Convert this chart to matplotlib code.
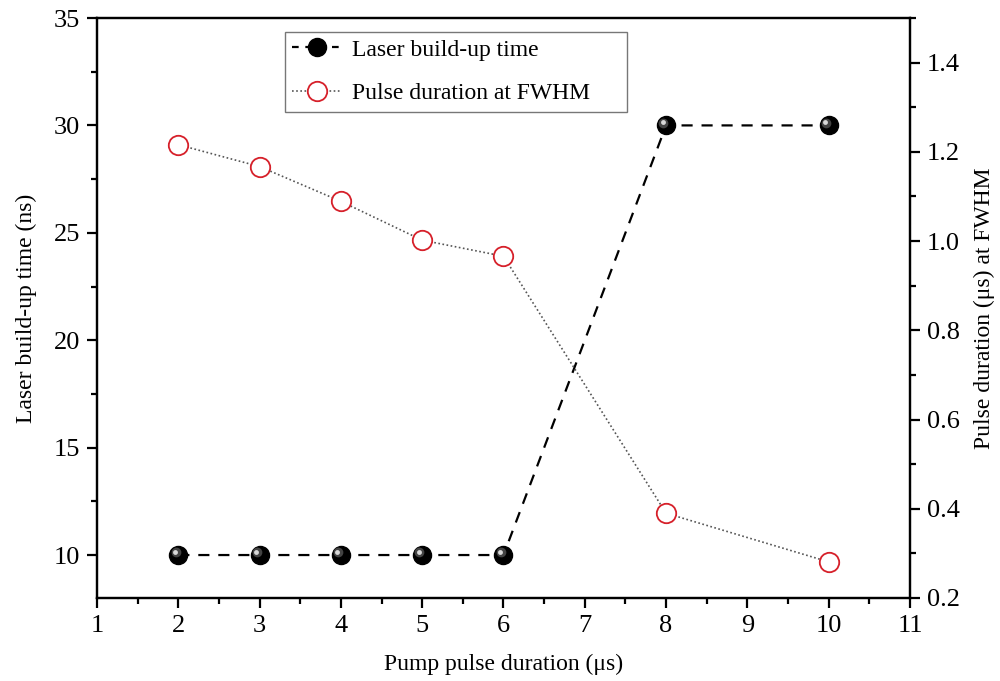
import numpy as np
import matplotlib.pyplot as plt
import matplotlib.transforms as mtransforms
from matplotlib.lines import Line2D
from matplotlib.ticker import MultipleLocator, AutoMinorLocator

plt.rcParams['font.family'] = ['Liberation Serif', 'DejaVu Serif']

# data
pump = [2, 3, 4, 5, 6, 8, 10]
buildup = [10, 10, 10, 10, 10, 30, 30]
fwhm = [1.216, 1.167, 1.089, 1.002, 0.966, 0.390, 0.281]

fig = plt.figure(figsize=(10, 6.81), dpi=100)
ax1 = fig.add_axes([0.097, 1 - 598 / 681, 0.813, (598 - 18) / 681])
ax2 = ax1.twinx()

# build-up time: black "spheres" with a dashed line
ax1.plot(pump, buildup, color='black', ls=(0, (5, 4)), lw=1.6, zorder=3)
ax1.plot(pump, buildup, ls='none', marker='o', ms=13, mfc='black', mec='black', zorder=4)
hl1 = ax1.transData + mtransforms.ScaledTranslation(-2 / 72, 2 / 72, fig.dpi_scale_trans)
hl2 = ax1.transData + mtransforms.ScaledTranslation(-2.5 / 72, 2.5 / 72, fig.dpi_scale_trans)
ax1.plot(pump, buildup, ls='none', marker='o', ms=7, mfc='#606060', mec='none',
         alpha=0.7, transform=hl1, zorder=5)
ax1.plot(pump, buildup, ls='none', marker='o', ms=3.5, mfc='#d8d8d8', mec='none',
         transform=hl2, zorder=6)

# pulse duration: red open circles with dotted line
ax2.plot(pump, fwhm, color='#555555', ls=(0, (1, 1.5)), lw=1.2, zorder=3)
ax2.plot(pump, fwhm, ls='none', marker='o', ms=14, mfc='white', mec='#d6202a', mew=1.3, zorder=4)

ax1.set_xlim(1, 11)
ax1.set_ylim(8, 35)
ax2.set_ylim(0.2, 1.5)

ax1.xaxis.set_major_locator(MultipleLocator(1))
ax1.xaxis.set_minor_locator(AutoMinorLocator(2))
ax1.yaxis.set_major_locator(MultipleLocator(5))
ax1.yaxis.set_minor_locator(AutoMinorLocator(2))
ax2.yaxis.set_major_locator(MultipleLocator(0.2))
ax2.yaxis.set_minor_locator(AutoMinorLocator(2))
ax2.yaxis.set_major_formatter(plt.FuncFormatter(lambda v, p: f'{v:.1f}'))

for ax in (ax1, ax2):
    for s in ax.spines.values():
        s.set_linewidth(1.6)
    ax.tick_params(which='major', direction='out', length=7, width=1.6, labelsize=19, pad=5)
    ax.tick_params(which='minor', direction='out', length=4, width=1.6)
ax1.tick_params(axis='y', which='both', right=False)
ax1.tick_params(axis='x', which='both', top=False)

ax1.set_xlabel('Pump pulse duration (\u03bcs)', fontsize=17, labelpad=12)
ax1.set_ylabel('Laser build-up time (ns)', fontsize=17, labelpad=12)
ax2.set_ylabel('Pulse duration (\u03bcs) at FWHM', fontsize=17, labelpad=10)

handles = [
    Line2D([], [], color='black', ls=(0, (3, 3)), lw=1.6, marker='o', ms=13, mfc='black', mec='black'),
    Line2D([], [], color='#555555', ls=(0, (1, 1.5)), lw=1.2, marker='o', ms=14, mfc='white',
           mec='#d6202a', mew=1.3),
]
leg = ax1.legend(handles, ['Laser build-up time', 'Pulse duration at FWHM'],
                 loc='upper left', bbox_to_anchor=(0.231, 0.826, 0.421, 0.15), mode='expand',
                 fontsize=17, frameon=True, fancybox=False, edgecolor='#555555',
                 handlelength=2.1, borderpad=0.3, labelspacing=0.95, handletextpad=0.45,
                 borderaxespad=0)
leg.get_frame().set_linewidth(1.0)

fig.savefig('out.png', dpi=100)
